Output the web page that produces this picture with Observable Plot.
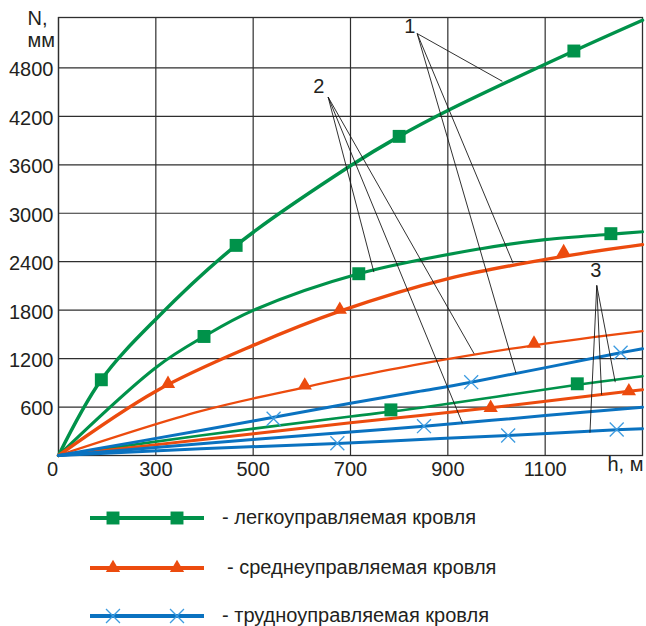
<!DOCTYPE html>
<html>
<head>
<meta charset="utf-8">
<script src="https://cdn.jsdelivr.net/npm/d3@7"></script>
<script src="https://cdn.jsdelivr.net/npm/@observablehq/plot@0.6"></script>
<style>
  body { margin: 0; background: #fff; font-family: Arial, "Liberation Sans", sans-serif; }
  #chart { width: 646px; }
  #legend { width: 646px; height: 136px; }
</style>
</head>
<body>
<div id="chart"></div>
<div id="legend"></div>
<script>
// ---- axes ----
const xTicks = [100, 300, 500, 700, 900, 1100];
const xTickLabels = ["0", "300", "500", "700", "900", "1100"];
const yTicks = [600, 1200, 1800, 2400, 3000, 3600, 4200, 4800];
const yTickLabels = ["600", "1200", "1800", "2400", "3000", "3600", "4200", "4800"];
const xTitle = "h, м";
const yTitle1 = "N,";
const yTitle2 = "мм";

// ---- series: [h, N] ----
const green1Line = [[100,0],[188,938],[301,1694],[465,2602],[700,3587],[800,3952],[901,4275],[1159,5009],[1300,5390]];
const green1Marks = [[188,938],[465,2602],[800,3952],[1159,5009]];
const green2Line = [[100,0],[301,1094],[399,1474],[500,1797],[717,2251],[968,2561],[1100,2673],[1235,2740],[1300,2770]];
const green2Marks = [[399,1474],[717,2251],[1235,2747]];
const green3Line = [[100,0],[392,248],[700,482],[844,591],[1166,876],[1300,982]];
const green3Marks = [[783,565],[1166,888]];

const red1Line = [[100,0],[301,800],[500,1363],[680,1790],[901,2190],[1138,2466],[1300,2611]];
const red1Marks = [[325,888],[678,1805],[1138,2519]];
const red2Line = [[100,0],[392,549],[606,845],[700,966],[844,1135],[1077,1365],[1300,1540]];
const red2Marks = [[606,867],[1077,1386]];
const red3Line = [[100,0],[392,195],[700,405],[844,496],[988,591],[1272,797],[1300,815]];
const red3Marks = [[988,591],[1272,797]];

const blue1Line = [[100,0],[392,310],[700,648],[844,797],[948,908],[1255,1272],[1300,1322]];
const blue1Marks = [[542,455],[948,908],[1255,1272]];
const blue2Line = [[100,0],[392,145],[700,292],[851,363],[1100,494],[1300,598]];
const blue2Marks = [[851,363]];
const blue3Line = [[100,0],[392,83],[673,150],[844,198],[1024,248],[1247,318],[1300,331]];
const blue3Marks = [[673,152],[1024,248],[1247,322]];

// ---- annotations (leader lines) ----
const calloutLabels = ["1", "2", "3"];
const calloutText = [[822,5307],[635,4563],[1204,2292]];
const calloutAnchor = [[837,5225],[654,4439],[1206,2106]];
const calloutTargets = [
  [[1012,4634],[1034,2383],[1040,1020]],
  [[748,2271],[954,1260],[930,400]],
  [[1244,908],[1216,752],[1192,281]]
];

// ---- legend ----
const legendLabels = ["легкоуправляемая кровля", "среднеуправляемая кровля", "трудноуправляемая кровля"];

// ---- styling ----
const colors = ["#00924a", "#ec4b0e", "#0a72c0"];
const timesColor = "#3c9be0";
const textColor = "#231f20";
const gridColor = "#2e2e2e";

const curves = [
  {line: green1Line, marks: green1Marks, type: 0, w: 3.5},
  {line: green2Line, marks: green2Marks, type: 0, w: 3.1},
  {line: green3Line, marks: green3Marks, type: 0, w: 2.6},
  {line: red1Line, marks: red1Marks, type: 1, w: 3.4},
  {line: red2Line, marks: red2Marks, type: 1, w: 2.3},
  {line: red3Line, marks: red3Marks, type: 1, w: 3.0},
  {line: blue1Line, marks: blue1Marks, type: 2, w: 3.0},
  {line: blue2Line, marks: blue2Marks, type: 2, w: 3.0},
  {line: blue3Line, marks: blue3Marks, type: 2, w: 3.0}
];

function dotMark(data, type) {
  const base = {x: d => d[0], y: d => d[1]};
  if (type === 0) return Plot.dot(data, {...base, symbol: "square", r: 7.3, fill: colors[0], stroke: "none"});
  if (type === 1) return Plot.dot(data, {...base, symbol: "triangle", r: 5.3, fill: colors[1], stroke: "none"});
  return Plot.dot(data, {...base, symbol: "times", r: 6.4, fill: "none", stroke: timesColor, strokeWidth: 1.3});
}

const leaders = [];
calloutAnchor.forEach((a, i) => calloutTargets[i].forEach(t => leaders.push({x1: a[0], y1: a[1], x2: t[0], y2: t[1]})));

const xFmt = d => xTickLabels[xTicks.indexOf(d)];
const axisXOpts = {tickFormat: xFmt, tickSize: 0, tickPadding: 6, label: null, fill: textColor, fontSize: 20};

const chart = Plot.plot({
  width: 646,
  height: 490,
  marginLeft: 58,
  marginRight: 4,
  marginTop: 17,
  marginBottom: 35,
  style: {fontFamily: 'Arial, "Liberation Sans", sans-serif', fontSize: "20px", color: textColor, background: "#fff"},
  x: {domain: [100, 1300]},
  y: {domain: [0, 5424]},
  marks: [
    Plot.gridX(xTicks, {stroke: gridColor, strokeOpacity: 1, strokeWidth: 1.2}),
    Plot.gridY(yTicks, {stroke: gridColor, strokeOpacity: 1, strokeWidth: 1.2}),
    Plot.frame({stroke: gridColor, strokeWidth: 1.3}),
    Plot.axisX(xTicks.slice(0, 1), {...axisXOpts, dx: -6}),
    Plot.axisX(xTicks.slice(1), axisXOpts),
    Plot.axisY(yTicks, {tickFormat: d => yTickLabels[yTicks.indexOf(d)], tickSize: 0, tickPadding: 5, label: null, dy: 2, fill: textColor, fontSize: 20}),
    Plot.text([xTitle], {frameAnchor: "bottom-right", text: d => d, textAnchor: "end", lineAnchor: "middle", dx: 1, dy: 9, fill: textColor, fontSize: 20}),
    Plot.text([yTitle1], {frameAnchor: "top-left", text: d => d, textAnchor: "start", lineAnchor: "middle", dx: -31, dy: 1, fill: textColor, fontSize: 20}),
    Plot.text([yTitle2], {frameAnchor: "top-left", text: d => d, textAnchor: "start", lineAnchor: "middle", dx: -31, dy: 23, fill: textColor, fontSize: 20}),
    ...curves.map(c => Plot.line(c.line, {x: d => d[0], y: d => d[1], stroke: colors[c.type], strokeWidth: c.w, curve: "catmull-rom"})),
    Plot.link(leaders, {x1: "x1", y1: "y1", x2: "x2", y2: "y2", stroke: "#1a1a1a", strokeWidth: 0.9}),
    ...curves.map(c => dotMark(c.marks, c.type)),
    Plot.text(calloutLabels, {x: (d, i) => calloutText[i][0], y: (d, i) => calloutText[i][1], text: d => d, lineAnchor: "middle", fill: textColor, fontSize: 20})
  ]
});
document.getElementById("chart").appendChild(chart);

// legend
const lsvg = d3.select("#legend").append("svg").attr("width", 646).attr("height", 136)
  .style("font-family", 'Arial, "Liberation Sans", sans-serif');
const rowY = [28, 78, 126];
const textX = [222, 227, 222];
const symSizes = [Math.PI * 7.3 * 7.3, Math.PI * 5.3 * 5.3, Math.PI * 6.4 * 6.4];
const symTypes = [d3.symbolSquare, d3.symbolTriangle, d3.symbolTimes];
legendLabels.forEach((lab, i) => {
  const g = lsvg.append("g");
  g.append("line").attr("x1", 90).attr("x2", 204).attr("y1", rowY[i]).attr("y2", rowY[i])
    .attr("stroke", colors[i]).attr("stroke-width", 3.8);
  [113, 177].forEach(cx => {
    const p = g.append("path").attr("d", d3.symbol(symTypes[i], symSizes[i])())
      .attr("transform", `translate(${cx},${rowY[i]})`);
    if (i === 2) p.attr("fill", "none").attr("stroke", timesColor).attr("stroke-width", 1.3);
    else p.attr("fill", colors[i]);
  });
  g.append("text").attr("x", textX[i]).attr("y", rowY[i] + 5.5).attr("font-size", 20)
    .attr("fill", textColor).text("- " + lab);
});
</script>
</body>
</html>
